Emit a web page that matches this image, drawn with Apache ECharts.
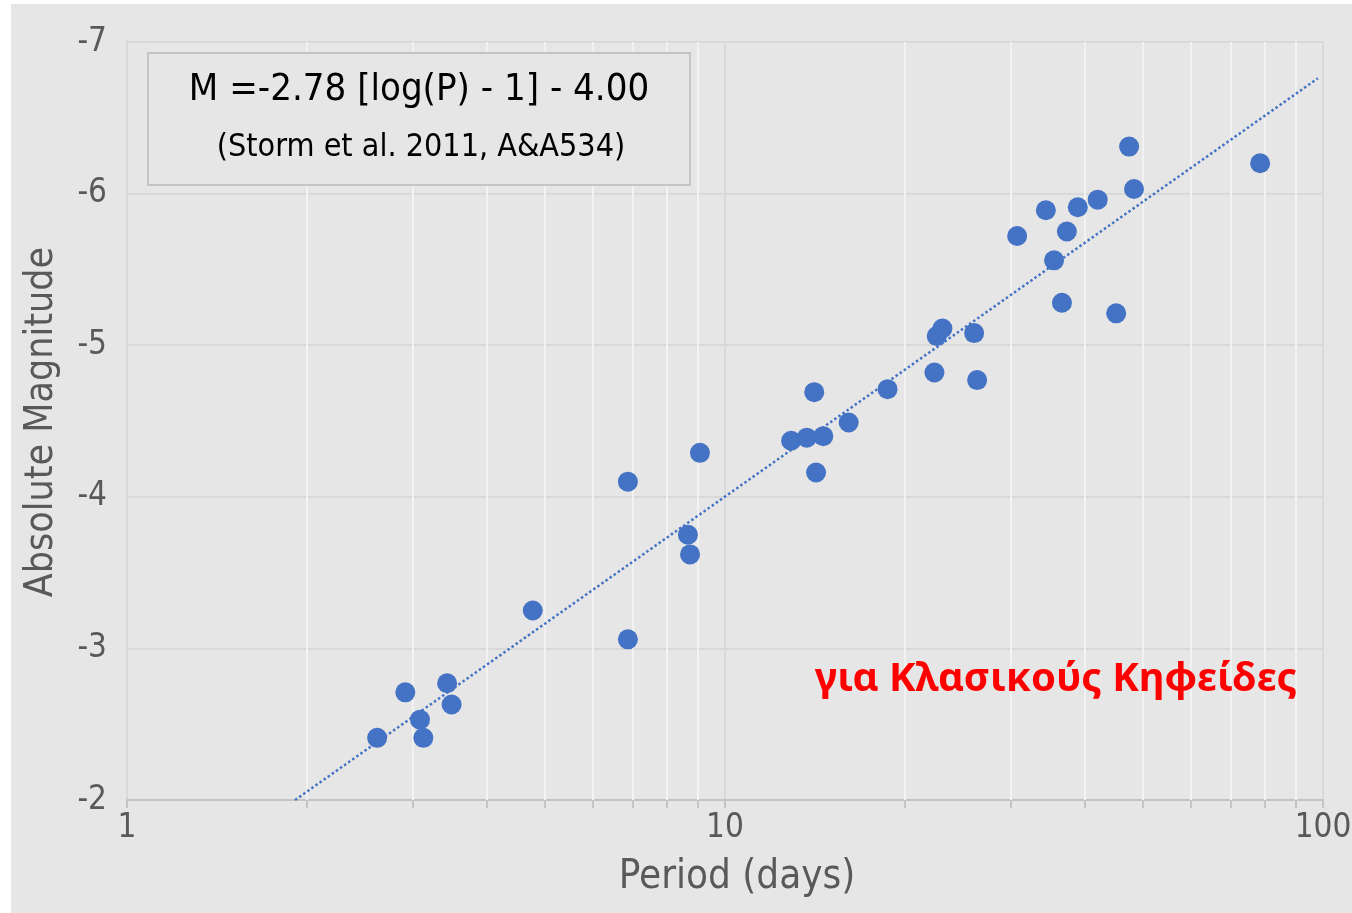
<!DOCTYPE html>
<html lang="el">
<head>
<meta charset="utf-8">
<title>Cepheid PL relation</title>
<script src="https://cdn.jsdelivr.net/npm/echarts@6/dist/echarts.min.js"></script>
<style>
  html, body { margin: 0; height: 100%; background: #ffffff; }
  #chart { position: absolute; left: 11px; top: 4px; width: 1341px; height: 909px; }
</style>
</head>
<body>
<div id="chart"></div>
<script>
// periods (days) and absolute magnitudes
var periods = [2.62, 2.92, 3.09, 3.13, 3.43, 3.49, 4.77, 6.88, 6.88, 8.67, 8.74, 9.08,
  12.9, 13.7, 14.6, 14.1, 14.2, 16.1, 18.7, 22.4, 22.6, 23.1, 26.1, 26.4,
  30.8, 34.4, 35.5, 36.6, 37.3, 38.9, 42.0, 45.1, 47.4, 48.3, 78.5];
var magnitudes = [-2.41, -2.71, -2.53, -2.41, -2.77, -2.63, -3.25, -3.06, -4.10, -3.75, -3.62, -4.29,
  -4.37, -4.39, -4.40, -4.69, -4.16, -4.49, -4.71, -4.82, -5.06, -5.11, -5.08, -4.77,
  -5.72, -5.89, -5.56, -5.28, -5.75, -5.91, -5.96, -5.21, -6.31, -6.03, -6.20];

// trend line end points
var trendP = [1.91, 98];
var trendM = [-2.0, -6.76];

var majorTicks = [1, 10, 100];
var minorTicks = [2, 3, 4, 5, 6, 7, 8, 9, 20, 30, 40, 50, 60, 70, 80, 90];

var font = 'DejaVu Sans Condensed, DejaVu Sans';
var grey = '#595959';

var chartDom = document.getElementById('chart');
var myChart = echarts.init(chartDom);
var option;

option = {
    backgroundColor: '#e6e6e6',
    animation: false,
    grid: { left: 116, right: 29, top: 38, bottom: 113, outerBoundsMode: 'none', containLabel: false },
    xAxis: [{
        type: 'log',
        logBase: 10,
        min: 1,
        max: 100,
        axisLine: { show: true, lineStyle: { color: '#c4c4c4', width: 2 } },
        axisTick: { show: true, length: 8, lineStyle: { color: '#c4c4c4', width: 2 } },
        axisLabel: {
            color: grey, fontSize: 33, fontFamily: font, margin: 12,
            formatter: function (v) { return majorTicks.indexOf(v) >= 0 ? String(v) : ''; }
        },
        splitLine: { show: true, lineStyle: { color: '#d9d9d9', width: 2 } },
        z: 3
    }, {
        type: 'log',
        logBase: 10,
        min: 1,
        max: 100,
        position: 'bottom',
        axisLine: { show: false },
        axisTick: { show: true, length: 8, customValues: minorTicks, lineStyle: { color: '#c4c4c4', width: 2 } },
        axisLabel: { show: false },
        splitLine: { show: true, lineStyle: { color: '#f2f2f2', width: 2 } },
        z: 4
    }],
    yAxis: {
        type: 'value',
        min: -7,
        max: -2,
        interval: 1,
        inverse: true,
        axisLine: { show: true, lineStyle: { color: '#c4c4c4', width: 2 } },
        axisTick: { show: false },
        axisLabel: { color: grey, fontSize: 33, fontFamily: font, margin: 20 },
        splitLine: { show: true, lineStyle: { color: '#d9d9d9', width: 2 } }
    },
    graphic: [{
        type: 'rect',
        shape: { x: 137, y: 49, width: 542, height: 132 },
        style: { fill: '#e6e6e6', stroke: '#c4c4c4', lineWidth: 2 },
        z: 10
    }, {
        type: 'text',
        x: 408, y: 86,
        style: { text: 'M =-2.78 [log(P) - 1] - 4.00', fill: '#000', fontSize: 38, fontFamily: font, align: 'center', verticalAlign: 'middle' },
        z: 11
    }, {
        type: 'text',
        x: 410, y: 144,
        style: { text: '(Storm et al. 2011, A&A534)', fill: '#000', fontSize: 32, fontFamily: font, align: 'center', verticalAlign: 'middle' },
        z: 11
    }, {
        type: 'text',
        x: 1286, y: 676,
        style: { text: 'για Κλασικούς Κηφείδες', fill: '#ff0000', fontSize: 40, fontWeight: 'bold', fontFamily: 'Noto Sans', align: 'right', verticalAlign: 'middle' },
        z: 11
    }, {
        type: 'text',
        x: 726, y: 874,
        style: { text: 'Period (days)', fill: grey, fontSize: 40, fontFamily: font, align: 'center', verticalAlign: 'middle' },
        z: 11
    }, {
        type: 'text',
        x: 31, y: 418,
        rotation: Math.PI / 2,
        style: { text: 'Absolute Magnitude', fill: grey, fontSize: 39, fontFamily: font, align: 'center', verticalAlign: 'middle' },
        z: 11
    }],
    series: [{
        name: 'Cepheids',
        type: 'scatter',
        xAxisIndex: 0,
        symbolSize: 20,
        itemStyle: { color: '#4472c4', opacity: 1 },
        data: periods.map(function (p, i) { return [p, magnitudes[i]]; }),
        z: 5
    }, {
        name: 'Trend',
        type: 'line',
        xAxisIndex: 0,
        showSymbol: false,
        symbol: 'none',
        lineStyle: { color: '#4472c4', width: 2.5, type: 'dotted' },
        data: trendP.map(function (p, i) { return [p, trendM[i]]; }),
        z: 6
    }]
};

option && myChart.setOption(option);
</script>
</body>
</html>
